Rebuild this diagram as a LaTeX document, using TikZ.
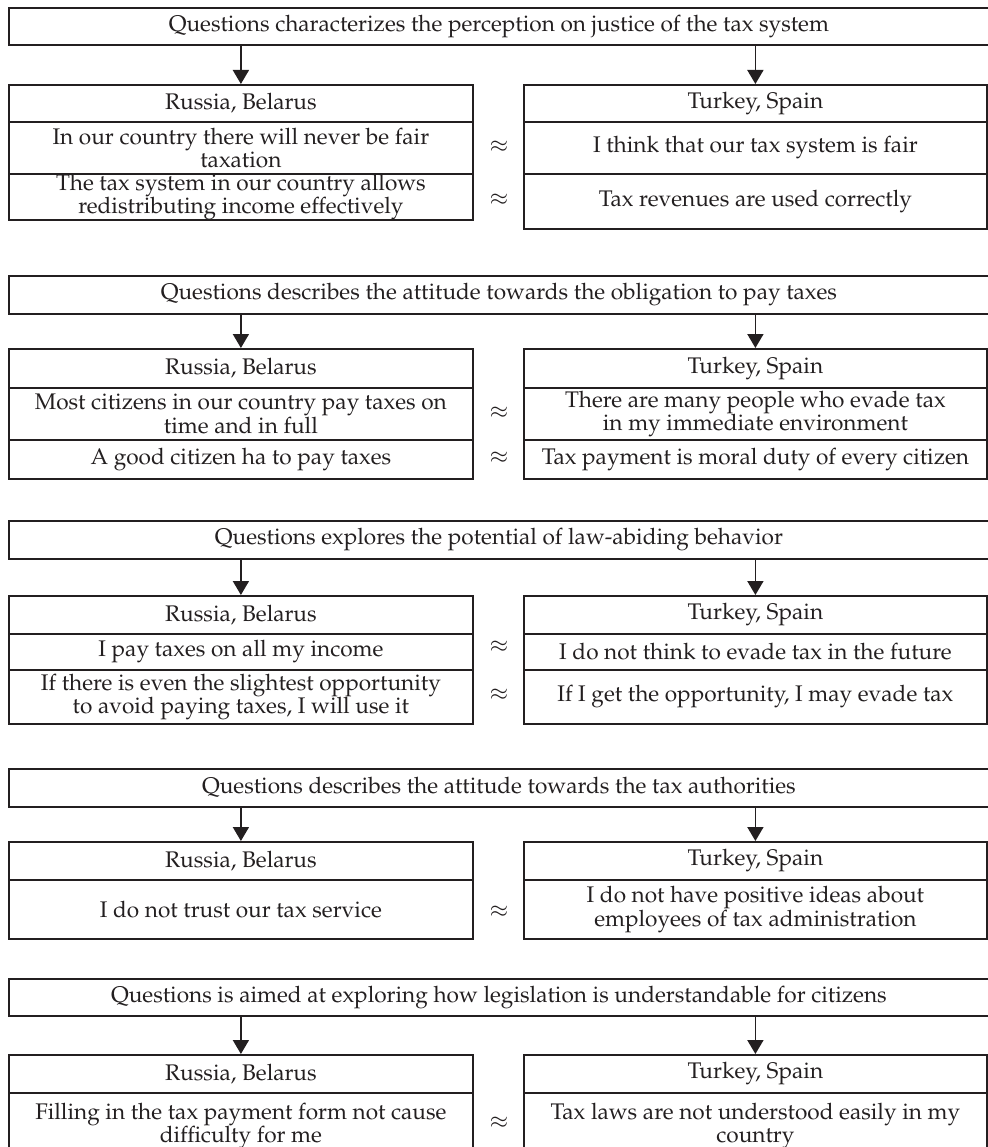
\documentclass[tikz,border=0pt]{standalone}
\usepackage[T1]{fontenc}
\usepackage{mathpazo}
\usetikzlibrary{arrows.meta}
\definecolor{ink}{HTML}{231F20}
\tikzset{
  cell/.style={draw=ink, line width=1.8pt, inner sep=0pt, align=center, anchor=north west, text=ink,
    font=\fontsize{22.6}{22.6}\selectfont},
  arr/.style={draw=ink, line width=1.8pt, -{Triangle[width=16pt,length=14pt]}},
  apx/.style={text=ink, inner sep=0pt, font=\fontsize{22.6}{22.6}\selectfont}
}
\begin{document}
\begin{tikzpicture}[x=1pt,y=-1pt]
\useasboundingbox (0,0) rectangle (987,1147);
% ---------- Block 1
\node[cell, minimum width=980pt, minimum height=37pt] (q1) at (8,7) {Questions characterizes the perception on justice of the tax system};
\node[cell, minimum width=464pt, minimum height=37pt] (l1h) at (8,84) {Russia, Belarus};
\node[cell, minimum width=464pt, minimum height=52pt] (l1a) at (8,121) {In our country there will never be fair\\taxation};
\node[cell, minimum width=464pt, minimum height=45pt] (l1b) at (8,173) {The tax system in our country allows\\redistributing income effectively};
\node[cell, minimum width=463pt, minimum height=37pt] (r1h) at (523,84) {Turkey, Spain};
\node[cell, minimum width=463pt, minimum height=52pt] (r1a) at (523,121) {I think that our tax system is fair};
\node[cell, minimum width=463pt, minimum height=55pt] (r1b) at (523,173) {Tax revenues are used correctly};
\node[apx] (x1a) at (499,147) {$\approx$};
\node[apx] (x1b) at (499,200) {$\approx$};
\draw[arr] (q1.south -| l1h.north) -- (l1h.north);
\draw[arr] (q1.south -| r1h.north) -- (r1h.north);
% ---------- Block 2
\node[cell, minimum width=980pt, minimum height=38pt] (q2) at (8,275) {Questions describes the attitude towards the obligation to pay taxes};
\node[cell, minimum width=464pt, minimum height=39pt] (l2h) at (8,348) {Russia, Belarus};
\node[cell, minimum width=464pt, minimum height=52pt] (l2a) at (8,387) {Most citizens in our country pay taxes on\\time and in full};
\node[cell, minimum width=464pt, minimum height=39pt] (l2b) at (8,439) {A good citizen ha to pay taxes};
\node[cell, minimum width=463pt, minimum height=39pt] (r2h) at (523,348) {Turkey, Spain};
\node[cell, minimum width=463pt, minimum height=52pt] (r2a) at (523,387) {There are many people who evade tax\\in my immediate environment};
\node[cell, minimum width=463pt, minimum height=39pt] (r2b) at (523,439) {Tax payment is moral duty of every citizen};
\node[apx] (x2a) at (499,413) {$\approx$};
\node[apx] (x2b) at (499,458) {$\approx$};
\draw[arr] (q2.south -| l2h.north) -- (l2h.north);
\draw[arr] (q2.south -| r2h.north) -- (r2h.north);
% ---------- Block 3
\node[cell, minimum width=980pt, minimum height=38pt] (q3) at (8,520) {Questions explores the potential of law-abiding behavior};
\node[cell, minimum width=464pt, minimum height=38pt] (l3h) at (8,595) {Russia, Belarus};
\node[cell, minimum width=464pt, minimum height=36pt] (l3a) at (8,633) {I pay taxes on all my income};
\node[cell, minimum width=464pt, minimum height=54pt] (l3b) at (8,669) {If there is even the slightest opportunity\\to avoid paying taxes, I will use it};
\node[cell, minimum width=463pt, minimum height=38pt] (r3h) at (523,595) {Turkey, Spain};
\node[cell, minimum width=463pt, minimum height=36pt] (r3a) at (523,633) {I do not think to evade tax in the future};
\node[cell, minimum width=463pt, minimum height=54pt] (r3b) at (523,669) {If I get the opportunity, I may evade tax};
\node[apx] (x3a) at (499,647) {$\approx$};
\node[apx] (x3b) at (499,695) {$\approx$};
\draw[arr] (q3.south -| l3h.north) -- (l3h.north);
\draw[arr] (q3.south -| r3h.north) -- (r3h.north);
% ---------- Block 4
\node[cell, minimum width=980pt, minimum height=38pt] (q4) at (8,768) {Questions describes the attitude towards the tax authorities};
\node[cell, minimum width=464pt, minimum height=38pt] (l4h) at (8,841) {Russia, Belarus};
\node[cell, minimum width=464pt, minimum height=59pt] (l4a) at (8,879) {I do not trust our tax service};
\node[cell, minimum width=463pt, minimum height=38pt] (r4h) at (523,841) {Turkey, Spain};
\node[cell, minimum width=463pt, minimum height=59pt] (r4a) at (523,879) {I do not have positive ideas about\\employees of tax administration};
\node[apx] (x4a) at (499,912) {$\approx$};
\draw[arr] (q4.south -| l4h.north) -- (l4h.north);
\draw[arr] (q4.south -| r4h.north) -- (r4h.north);
% ---------- Block 5
\node[cell, minimum width=980pt, minimum height=37pt] (q5) at (8,978) {Questions is aimed at exploring how legislation is understandable for citizens};
\node[cell, minimum width=464pt, minimum height=38pt] (l5h) at (8,1054) {Russia, Belarus};
\node[cell, minimum width=464pt, minimum height=66pt] (l5a) at (8,1092) {Filling in the tax payment form not cause\\difficulty for me};
\node[cell, minimum width=463pt, minimum height=38pt] (r5h) at (523,1054) {Turkey, Spain};
\node[cell, minimum width=463pt, minimum height=66pt] (r5a) at (523,1092) {Tax laws are not understood easily in my\\country};
\node[apx] (x5a) at (499,1123) {$\approx$};
\draw[arr] (q5.south -| l5h.north) -- (l5h.north);
\draw[arr] (q5.south -| r5h.north) -- (r5h.north);
\end{tikzpicture}
\end{document}
